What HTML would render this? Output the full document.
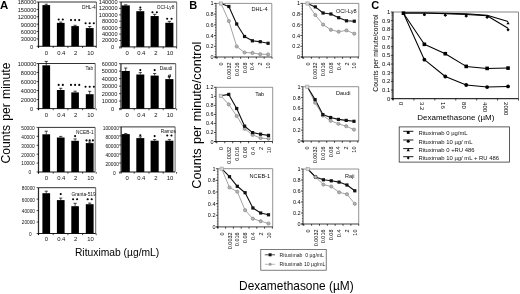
<!DOCTYPE html>
<html><head><meta charset="utf-8"><title>Figure</title>
<style>html,body{margin:0;padding:0;background:#fff;width:520px;height:294px;overflow:hidden}
svg{display:block;font-family:"Liberation Sans", sans-serif;filter:grayscale(1) blur(0.3px)}</style></head>
<body><svg width="520" height="294" viewBox="0 0 520 294" font-family='"Liberation Sans", sans-serif'><text x="0.1" y="8.6" font-size="11.4" text-anchor="start" font-weight="bold" fill="#000">A</text>
<text x="189.3" y="8.8" font-size="11" text-anchor="start" font-weight="bold" fill="#000">B</text>
<text x="371.2" y="8.6" font-size="11" text-anchor="start" font-weight="bold" fill="#000">C</text>
<line x1="38.6" y1="2" x2="96.4" y2="2" stroke="#333" stroke-width="1"/>
<line x1="96.4" y1="2" x2="96.4" y2="46.3" stroke="#555" stroke-width="0.9"/>
<line x1="38" y1="2" x2="38" y2="46.3" stroke="#666" stroke-width="0.8" stroke-dasharray="0.5 0.6"/>
<line x1="36.6" y1="2" x2="38.6" y2="2" stroke="#000" stroke-width="0.7"/>
<text x="36.4" y="4.4" font-size="5.6" text-anchor="end" font-weight="normal" fill="#111">180000</text>
<line x1="36.6" y1="9.38" x2="38.6" y2="9.38" stroke="#000" stroke-width="0.7"/>
<text x="36.4" y="11.78" font-size="5.6" text-anchor="end" font-weight="normal" fill="#111">150000</text>
<line x1="36.6" y1="16.77" x2="38.6" y2="16.77" stroke="#000" stroke-width="0.7"/>
<text x="36.4" y="19.17" font-size="5.6" text-anchor="end" font-weight="normal" fill="#111">120000</text>
<line x1="36.6" y1="24.15" x2="38.6" y2="24.15" stroke="#000" stroke-width="0.7"/>
<text x="36.4" y="26.55" font-size="5.6" text-anchor="end" font-weight="normal" fill="#111">90000</text>
<line x1="36.6" y1="31.53" x2="38.6" y2="31.53" stroke="#000" stroke-width="0.7"/>
<text x="36.4" y="33.93" font-size="5.6" text-anchor="end" font-weight="normal" fill="#111">60000</text>
<line x1="36.6" y1="38.92" x2="38.6" y2="38.92" stroke="#000" stroke-width="0.7"/>
<text x="36.4" y="41.32" font-size="5.6" text-anchor="end" font-weight="normal" fill="#111">30000</text>
<line x1="36.6" y1="46.3" x2="38.6" y2="46.3" stroke="#000" stroke-width="0.7"/>
<text x="33.1" y="48.7" font-size="5.6" text-anchor="end" font-weight="normal" fill="#111">0</text>
<line x1="38.6" y1="2" x2="38.6" y2="47.8" stroke="#000" stroke-width="0.9"/>
<line x1="38.6" y1="46.3" x2="96.4" y2="46.3" stroke="#000" stroke-width="0.9"/>
<line x1="38.4" y1="46.3" x2="38.4" y2="48" stroke="#000" stroke-width="0.7"/>
<line x1="53.2" y1="46.3" x2="53.2" y2="48" stroke="#000" stroke-width="0.7"/>
<line x1="67.9" y1="46.3" x2="67.9" y2="48" stroke="#000" stroke-width="0.7"/>
<line x1="82.6" y1="46.3" x2="82.6" y2="48" stroke="#000" stroke-width="0.7"/>
<line x1="96.2" y1="46.3" x2="96.2" y2="48" stroke="#000" stroke-width="0.7"/>
<rect x="42.4" y="5.1" width="7.7" height="41.2" fill="#000"/>
<line x1="46.25" y1="4.2" x2="46.25" y2="5.1" stroke="#000" stroke-width="0.7"/>
<line x1="44.65" y1="4.2" x2="47.85" y2="4.2" stroke="#000" stroke-width="0.7"/>
<text x="46.4" y="54.7" font-size="5.9" text-anchor="middle" font-weight="normal" fill="#111">0</text>
<rect x="56.9" y="22.9" width="7.7" height="23.4" fill="#000"/>
<line x1="60.75" y1="22.1" x2="60.75" y2="22.9" stroke="#000" stroke-width="0.7"/>
<line x1="59.15" y1="22.1" x2="62.35" y2="22.1" stroke="#000" stroke-width="0.7"/>
<circle cx="58.7" cy="19.5" r="1.05"/>
<circle cx="62.8" cy="19.5" r="1.05"/>
<text x="61.3" y="54.7" font-size="5.9" text-anchor="middle" font-weight="normal" fill="#111">0.4</text>
<rect x="71.3" y="26.1" width="7.6" height="20.2" fill="#000"/>
<line x1="75.1" y1="25.3" x2="75.1" y2="26.1" stroke="#000" stroke-width="0.7"/>
<line x1="73.5" y1="25.3" x2="76.7" y2="25.3" stroke="#000" stroke-width="0.7"/>
<circle cx="71" cy="20.1" r="1.05"/>
<circle cx="75.1" cy="20.1" r="1.05"/>
<circle cx="79.2" cy="20.1" r="1.05"/>
<text x="75.6" y="54.7" font-size="5.9" text-anchor="middle" font-weight="normal" fill="#111">2</text>
<rect x="85.8" y="28.1" width="7.8" height="18.2" fill="#000"/>
<line x1="89.7" y1="26.5" x2="89.7" y2="28.1" stroke="#000" stroke-width="0.7"/>
<line x1="88.1" y1="26.5" x2="91.3" y2="26.5" stroke="#000" stroke-width="0.7"/>
<circle cx="85.6" cy="23.3" r="1.05"/>
<circle cx="89.7" cy="23.3" r="1.05"/>
<circle cx="93.8" cy="23.3" r="1.05"/>
<text x="90.5" y="54.7" font-size="5.9" text-anchor="middle" font-weight="normal" fill="#111">10</text>
<text x="95.8" y="8.9" font-size="4.8" text-anchor="end" font-weight="normal" fill="#111">DHL-4</text>
<line x1="121.2" y1="2" x2="176.7" y2="2" stroke="#333" stroke-width="1"/>
<line x1="176.7" y1="2" x2="176.7" y2="46.9" stroke="#555" stroke-width="0.9"/>
<line x1="120.6" y1="2" x2="120.6" y2="46.9" stroke="#666" stroke-width="0.8" stroke-dasharray="0.5 0.6"/>
<line x1="119.2" y1="2" x2="121.2" y2="2" stroke="#000" stroke-width="0.7"/>
<text x="117.5" y="4" font-size="5.6" text-anchor="end" font-weight="normal" fill="#111">140000</text>
<line x1="119.2" y1="8.41" x2="121.2" y2="8.41" stroke="#000" stroke-width="0.7"/>
<text x="117.5" y="10.41" font-size="5.6" text-anchor="end" font-weight="normal" fill="#111">120000</text>
<line x1="119.2" y1="14.83" x2="121.2" y2="14.83" stroke="#000" stroke-width="0.7"/>
<text x="117.5" y="16.83" font-size="5.6" text-anchor="end" font-weight="normal" fill="#111">100000</text>
<line x1="119.2" y1="21.24" x2="121.2" y2="21.24" stroke="#000" stroke-width="0.7"/>
<text x="117.5" y="23.24" font-size="5.6" text-anchor="end" font-weight="normal" fill="#111">80000</text>
<line x1="119.2" y1="27.66" x2="121.2" y2="27.66" stroke="#000" stroke-width="0.7"/>
<text x="117.5" y="29.66" font-size="5.6" text-anchor="end" font-weight="normal" fill="#111">60000</text>
<line x1="119.2" y1="34.07" x2="121.2" y2="34.07" stroke="#000" stroke-width="0.7"/>
<text x="117.5" y="36.07" font-size="5.6" text-anchor="end" font-weight="normal" fill="#111">40000</text>
<line x1="119.2" y1="40.49" x2="121.2" y2="40.49" stroke="#000" stroke-width="0.7"/>
<text x="117.5" y="42.49" font-size="5.6" text-anchor="end" font-weight="normal" fill="#111">20000</text>
<line x1="119.2" y1="46.9" x2="121.2" y2="46.9" stroke="#000" stroke-width="0.7"/>
<text x="114.2" y="48.9" font-size="5.6" text-anchor="end" font-weight="normal" fill="#111">0</text>
<line x1="121.2" y1="2" x2="121.2" y2="48.4" stroke="#000" stroke-width="0.9"/>
<line x1="121.2" y1="46.9" x2="176.7" y2="46.9" stroke="#000" stroke-width="0.9"/>
<line x1="119.8" y1="46.9" x2="119.8" y2="48.6" stroke="#000" stroke-width="0.7"/>
<line x1="134.2" y1="46.9" x2="134.2" y2="48.6" stroke="#000" stroke-width="0.7"/>
<line x1="149" y1="46.9" x2="149" y2="48.6" stroke="#000" stroke-width="0.7"/>
<line x1="163.2" y1="46.9" x2="163.2" y2="48.6" stroke="#000" stroke-width="0.7"/>
<line x1="176.6" y1="46.9" x2="176.6" y2="48.6" stroke="#000" stroke-width="0.7"/>
<rect x="121.6" y="5.4" width="8.2" height="41.5" fill="#000"/>
<line x1="125.7" y1="4.8" x2="125.7" y2="5.4" stroke="#000" stroke-width="0.7"/>
<line x1="124.1" y1="4.8" x2="127.3" y2="4.8" stroke="#000" stroke-width="0.7"/>
<text x="127.2" y="54.7" font-size="5.9" text-anchor="middle" font-weight="normal" fill="#111">0</text>
<rect x="136.3" y="11.2" width="8" height="35.7" fill="#000"/>
<line x1="140.3" y1="9.6" x2="140.3" y2="11.2" stroke="#000" stroke-width="0.7"/>
<line x1="138.7" y1="9.6" x2="141.9" y2="9.6" stroke="#000" stroke-width="0.7"/>
<circle cx="140.3" cy="7.6" r="1.05"/>
<text x="141.3" y="54.7" font-size="5.9" text-anchor="middle" font-weight="normal" fill="#111">0.4</text>
<rect x="150.6" y="16.05" width="8.1" height="30.85" fill="#000"/>
<line x1="154.65" y1="14.3" x2="154.65" y2="16.05" stroke="#000" stroke-width="0.7"/>
<line x1="153.05" y1="14.3" x2="156.25" y2="14.3" stroke="#000" stroke-width="0.7"/>
<circle cx="152.45" cy="12.2" r="1.05"/>
<circle cx="156.85" cy="12.2" r="1.05"/>
<text x="155.8" y="54.7" font-size="5.9" text-anchor="middle" font-weight="normal" fill="#111">2</text>
<rect x="165.3" y="22.8" width="8.1" height="24.1" fill="#000"/>
<line x1="169.35" y1="21.4" x2="169.35" y2="22.8" stroke="#000" stroke-width="0.7"/>
<line x1="167.75" y1="21.4" x2="170.95" y2="21.4" stroke="#000" stroke-width="0.7"/>
<circle cx="167.15" cy="18.7" r="1.05"/>
<circle cx="171.55" cy="18.7" r="1.05"/>
<text x="170" y="54.7" font-size="5.9" text-anchor="middle" font-weight="normal" fill="#111">10</text>
<text x="174.4" y="9" font-size="4.8" text-anchor="end" font-weight="normal" fill="#111">OCI-Ly8</text>
<line x1="38.6" y1="63.5" x2="95.2" y2="63.5" stroke="#333" stroke-width="1"/>
<line x1="95.2" y1="63.5" x2="95.2" y2="108.6" stroke="#555" stroke-width="0.9"/>
<line x1="38" y1="63.5" x2="38" y2="108.6" stroke="#666" stroke-width="0.8" stroke-dasharray="0.5 0.6"/>
<line x1="36.6" y1="63.5" x2="38.6" y2="63.5" stroke="#000" stroke-width="0.7"/>
<text x="36.4" y="65.9" font-size="5.6" text-anchor="end" font-weight="normal" fill="#111">100000</text>
<line x1="36.6" y1="72.52" x2="38.6" y2="72.52" stroke="#000" stroke-width="0.7"/>
<text x="36.4" y="74.92" font-size="5.6" text-anchor="end" font-weight="normal" fill="#111">80000</text>
<line x1="36.6" y1="81.54" x2="38.6" y2="81.54" stroke="#000" stroke-width="0.7"/>
<text x="36.4" y="83.94" font-size="5.6" text-anchor="end" font-weight="normal" fill="#111">60000</text>
<line x1="36.6" y1="90.56" x2="38.6" y2="90.56" stroke="#000" stroke-width="0.7"/>
<text x="36.4" y="92.96" font-size="5.6" text-anchor="end" font-weight="normal" fill="#111">40000</text>
<line x1="36.6" y1="99.58" x2="38.6" y2="99.58" stroke="#000" stroke-width="0.7"/>
<text x="36.4" y="101.98" font-size="5.6" text-anchor="end" font-weight="normal" fill="#111">20000</text>
<line x1="36.6" y1="108.6" x2="38.6" y2="108.6" stroke="#000" stroke-width="0.7"/>
<text x="33.1" y="111" font-size="5.6" text-anchor="end" font-weight="normal" fill="#111">0</text>
<line x1="38.6" y1="63.5" x2="38.6" y2="110.1" stroke="#000" stroke-width="0.9"/>
<line x1="38.6" y1="108.6" x2="95.2" y2="108.6" stroke="#000" stroke-width="0.9"/>
<line x1="38.4" y1="108.6" x2="38.4" y2="110.3" stroke="#000" stroke-width="0.7"/>
<line x1="53.2" y1="108.6" x2="53.2" y2="110.3" stroke="#000" stroke-width="0.7"/>
<line x1="67.9" y1="108.6" x2="67.9" y2="110.3" stroke="#000" stroke-width="0.7"/>
<line x1="82.6" y1="108.6" x2="82.6" y2="110.3" stroke="#000" stroke-width="0.7"/>
<line x1="96.2" y1="108.6" x2="96.2" y2="110.3" stroke="#000" stroke-width="0.7"/>
<rect x="42.4" y="65.3" width="7.7" height="43.3" fill="#000"/>
<line x1="46.25" y1="61.4" x2="46.25" y2="65.3" stroke="#000" stroke-width="0.7"/>
<line x1="44.65" y1="61.4" x2="47.85" y2="61.4" stroke="#000" stroke-width="0.7"/>
<text x="46.4" y="116.9" font-size="5.9" text-anchor="middle" font-weight="normal" fill="#111">0</text>
<rect x="56.9" y="90" width="7.7" height="18.6" fill="#000"/>
<line x1="60.75" y1="88.3" x2="60.75" y2="90" stroke="#000" stroke-width="0.7"/>
<line x1="59.15" y1="88.3" x2="62.35" y2="88.3" stroke="#000" stroke-width="0.7"/>
<circle cx="58.67" cy="84.9" r="1.05"/>
<circle cx="62.83" cy="84.9" r="1.05"/>
<text x="61.3" y="116.9" font-size="5.9" text-anchor="middle" font-weight="normal" fill="#111">0.4</text>
<rect x="71.3" y="92.4" width="7.6" height="16.2" fill="#000"/>
<line x1="75.1" y1="91.2" x2="75.1" y2="92.4" stroke="#000" stroke-width="0.7"/>
<line x1="73.5" y1="91.2" x2="76.7" y2="91.2" stroke="#000" stroke-width="0.7"/>
<circle cx="70.95" cy="84.9" r="1.05"/>
<circle cx="75.1" cy="84.9" r="1.05"/>
<circle cx="79.25" cy="84.9" r="1.05"/>
<text x="75.6" y="116.9" font-size="5.9" text-anchor="middle" font-weight="normal" fill="#111">2</text>
<rect x="85.8" y="94.2" width="7.8" height="14.4" fill="#000"/>
<line x1="89.7" y1="91.3" x2="89.7" y2="94.2" stroke="#000" stroke-width="0.7"/>
<line x1="88.1" y1="91.3" x2="91.3" y2="91.3" stroke="#000" stroke-width="0.7"/>
<circle cx="85.55" cy="86.7" r="1.05"/>
<circle cx="89.7" cy="86.7" r="1.05"/>
<circle cx="93.85" cy="86.7" r="1.05"/>
<text x="90.5" y="116.9" font-size="5.9" text-anchor="middle" font-weight="normal" fill="#111">10</text>
<text x="93.2" y="69.9" font-size="4.8" text-anchor="end" font-weight="normal" fill="#111">Tab</text>
<line x1="121" y1="63.7" x2="175.7" y2="63.7" stroke="#333" stroke-width="1"/>
<line x1="175.7" y1="63.7" x2="175.7" y2="108.6" stroke="#555" stroke-width="0.9"/>
<line x1="120.4" y1="63.7" x2="120.4" y2="108.6" stroke="#666" stroke-width="0.8" stroke-dasharray="0.5 0.6"/>
<line x1="119" y1="63.7" x2="121" y2="63.7" stroke="#000" stroke-width="0.7"/>
<text x="117.3" y="65.7" font-size="5.6" text-anchor="end" font-weight="normal" fill="#111">60000</text>
<line x1="119" y1="71.18" x2="121" y2="71.18" stroke="#000" stroke-width="0.7"/>
<text x="117.3" y="73.18" font-size="5.6" text-anchor="end" font-weight="normal" fill="#111">50000</text>
<line x1="119" y1="78.67" x2="121" y2="78.67" stroke="#000" stroke-width="0.7"/>
<text x="117.3" y="80.67" font-size="5.6" text-anchor="end" font-weight="normal" fill="#111">40000</text>
<line x1="119" y1="86.15" x2="121" y2="86.15" stroke="#000" stroke-width="0.7"/>
<text x="117.3" y="88.15" font-size="5.6" text-anchor="end" font-weight="normal" fill="#111">30000</text>
<line x1="119" y1="93.63" x2="121" y2="93.63" stroke="#000" stroke-width="0.7"/>
<text x="117.3" y="95.63" font-size="5.6" text-anchor="end" font-weight="normal" fill="#111">20000</text>
<line x1="119" y1="101.12" x2="121" y2="101.12" stroke="#000" stroke-width="0.7"/>
<text x="117.3" y="103.12" font-size="5.6" text-anchor="end" font-weight="normal" fill="#111">10000</text>
<line x1="119" y1="108.6" x2="121" y2="108.6" stroke="#000" stroke-width="0.7"/>
<text x="114" y="110.6" font-size="5.6" text-anchor="end" font-weight="normal" fill="#111">0</text>
<line x1="121" y1="63.7" x2="121" y2="110.1" stroke="#000" stroke-width="0.9"/>
<line x1="121" y1="108.6" x2="175.7" y2="108.6" stroke="#000" stroke-width="0.9"/>
<line x1="119.8" y1="108.6" x2="119.8" y2="110.3" stroke="#000" stroke-width="0.7"/>
<line x1="134.2" y1="108.6" x2="134.2" y2="110.3" stroke="#000" stroke-width="0.7"/>
<line x1="149" y1="108.6" x2="149" y2="110.3" stroke="#000" stroke-width="0.7"/>
<line x1="163.2" y1="108.6" x2="163.2" y2="110.3" stroke="#000" stroke-width="0.7"/>
<line x1="176.6" y1="108.6" x2="176.6" y2="110.3" stroke="#000" stroke-width="0.7"/>
<rect x="121.6" y="71" width="8.2" height="37.6" fill="#000"/>
<line x1="125.7" y1="68" x2="125.7" y2="71" stroke="#000" stroke-width="0.7"/>
<line x1="124.1" y1="68" x2="127.3" y2="68" stroke="#000" stroke-width="0.7"/>
<text x="127.2" y="116.9" font-size="5.9" text-anchor="middle" font-weight="normal" fill="#111">0</text>
<rect x="136.3" y="74.5" width="8" height="34.1" fill="#000"/>
<line x1="140.3" y1="72.6" x2="140.3" y2="74.5" stroke="#000" stroke-width="0.7"/>
<line x1="138.7" y1="72.6" x2="141.9" y2="72.6" stroke="#000" stroke-width="0.7"/>
<circle cx="140.3" cy="70.1" r="1.05"/>
<text x="141.3" y="116.9" font-size="5.9" text-anchor="middle" font-weight="normal" fill="#111">0.4</text>
<rect x="150.6" y="75.6" width="8.1" height="33" fill="#000"/>
<line x1="154.65" y1="73.5" x2="154.65" y2="75.6" stroke="#000" stroke-width="0.7"/>
<line x1="153.05" y1="73.5" x2="156.25" y2="73.5" stroke="#000" stroke-width="0.7"/>
<circle cx="154.65" cy="70.1" r="1.05"/>
<text x="155.8" y="116.9" font-size="5.9" text-anchor="middle" font-weight="normal" fill="#111">2</text>
<rect x="165.3" y="79.1" width="8.1" height="29.5" fill="#000"/>
<line x1="169.35" y1="76.8" x2="169.35" y2="79.1" stroke="#000" stroke-width="0.7"/>
<line x1="167.75" y1="76.8" x2="170.95" y2="76.8" stroke="#000" stroke-width="0.7"/>
<text x="169.35" y="77.9" font-size="6" text-anchor="middle" font-weight="bold" fill="#000">#</text>
<text x="170" y="116.9" font-size="5.9" text-anchor="middle" font-weight="normal" fill="#111">10</text>
<text x="172.4" y="70" font-size="4.8" text-anchor="end" font-weight="normal" fill="#111">Daudi</text>
<line x1="38.6" y1="127.4" x2="95.1" y2="127.4" stroke="#333" stroke-width="1"/>
<line x1="95.1" y1="127.4" x2="95.1" y2="172" stroke="#555" stroke-width="0.9"/>
<line x1="38" y1="127.4" x2="38" y2="172" stroke="#666" stroke-width="0.8" stroke-dasharray="0.5 0.6"/>
<line x1="36.6" y1="127.4" x2="38.6" y2="127.4" stroke="#000" stroke-width="0.7"/>
<text font-size="5.6" text-anchor="end" fill="#111" transform="translate(34.6,129.8) scale(0.86,1)">50000</text>
<line x1="36.6" y1="136.32" x2="38.6" y2="136.32" stroke="#000" stroke-width="0.7"/>
<text font-size="5.6" text-anchor="end" fill="#111" transform="translate(34.6,138.72) scale(0.86,1)">40000</text>
<line x1="36.6" y1="145.24" x2="38.6" y2="145.24" stroke="#000" stroke-width="0.7"/>
<text font-size="5.6" text-anchor="end" fill="#111" transform="translate(34.6,147.64) scale(0.86,1)">30000</text>
<line x1="36.6" y1="154.16" x2="38.6" y2="154.16" stroke="#000" stroke-width="0.7"/>
<text font-size="5.6" text-anchor="end" fill="#111" transform="translate(34.6,156.56) scale(0.86,1)">20000</text>
<line x1="36.6" y1="163.08" x2="38.6" y2="163.08" stroke="#000" stroke-width="0.7"/>
<text font-size="5.6" text-anchor="end" fill="#111" transform="translate(34.6,165.48) scale(0.86,1)">10000</text>
<line x1="36.6" y1="172" x2="38.6" y2="172" stroke="#000" stroke-width="0.7"/>
<text font-size="5.6" text-anchor="end" fill="#111" transform="translate(31.3,174.4) scale(0.86,1)">0</text>
<line x1="38.6" y1="127.4" x2="38.6" y2="173.5" stroke="#000" stroke-width="0.9"/>
<line x1="38.6" y1="172" x2="95.1" y2="172" stroke="#000" stroke-width="0.9"/>
<line x1="38.4" y1="172" x2="38.4" y2="173.7" stroke="#000" stroke-width="0.7"/>
<line x1="53.2" y1="172" x2="53.2" y2="173.7" stroke="#000" stroke-width="0.7"/>
<line x1="67.9" y1="172" x2="67.9" y2="173.7" stroke="#000" stroke-width="0.7"/>
<line x1="82.6" y1="172" x2="82.6" y2="173.7" stroke="#000" stroke-width="0.7"/>
<line x1="96.2" y1="172" x2="96.2" y2="173.7" stroke="#000" stroke-width="0.7"/>
<rect x="42.4" y="134.3" width="7.7" height="37.7" fill="#000"/>
<line x1="46.25" y1="131.2" x2="46.25" y2="134.3" stroke="#000" stroke-width="0.7"/>
<line x1="44.65" y1="131.2" x2="47.85" y2="131.2" stroke="#000" stroke-width="0.7"/>
<text x="46.4" y="180.3" font-size="5.9" text-anchor="middle" font-weight="normal" fill="#111">0</text>
<rect x="56.9" y="137.5" width="7.7" height="34.5" fill="#000"/>
<line x1="60.75" y1="136.4" x2="60.75" y2="137.5" stroke="#000" stroke-width="0.7"/>
<line x1="59.15" y1="136.4" x2="62.35" y2="136.4" stroke="#000" stroke-width="0.7"/>
<text x="61.3" y="180.3" font-size="5.9" text-anchor="middle" font-weight="normal" fill="#111">0.4</text>
<rect x="71.3" y="140.8" width="7.6" height="31.2" fill="#000"/>
<line x1="75.1" y1="138.9" x2="75.1" y2="140.8" stroke="#000" stroke-width="0.7"/>
<line x1="73.5" y1="138.9" x2="76.7" y2="138.9" stroke="#000" stroke-width="0.7"/>
<circle cx="75.1" cy="136.1" r="1.05"/>
<text x="75.6" y="180.3" font-size="5.9" text-anchor="middle" font-weight="normal" fill="#111">2</text>
<rect x="85.8" y="143.1" width="7.8" height="28.9" fill="#000"/>
<line x1="89.7" y1="142" x2="89.7" y2="143.1" stroke="#000" stroke-width="0.7"/>
<line x1="88.1" y1="142" x2="91.3" y2="142" stroke="#000" stroke-width="0.7"/>
<circle cx="86.5" cy="140.4" r="1.05"/>
<circle cx="89.7" cy="140.4" r="1.05"/>
<circle cx="92.9" cy="140.4" r="1.05"/>
<text x="90.5" y="180.3" font-size="5.9" text-anchor="middle" font-weight="normal" fill="#111">10</text>
<text x="93.6" y="133.5" font-size="4.8" text-anchor="end" font-weight="normal" fill="#111">NCEB-1</text>
<line x1="121.2" y1="126.9" x2="175.1" y2="126.9" stroke="#333" stroke-width="1"/>
<line x1="175.1" y1="126.9" x2="175.1" y2="172" stroke="#555" stroke-width="0.9"/>
<line x1="120.6" y1="126.9" x2="120.6" y2="172" stroke="#666" stroke-width="0.8" stroke-dasharray="0.5 0.6"/>
<line x1="119.2" y1="126.9" x2="121.2" y2="126.9" stroke="#000" stroke-width="0.7"/>
<text font-size="5.6" text-anchor="end" fill="#111" transform="translate(118.9,129.6) scale(0.87,1)">100000</text>
<line x1="119.2" y1="135.92" x2="121.2" y2="135.92" stroke="#000" stroke-width="0.7"/>
<text font-size="5.6" text-anchor="end" fill="#111" transform="translate(118.9,138.62) scale(0.87,1)">80000</text>
<line x1="119.2" y1="144.94" x2="121.2" y2="144.94" stroke="#000" stroke-width="0.7"/>
<text font-size="5.6" text-anchor="end" fill="#111" transform="translate(118.9,147.64) scale(0.87,1)">60000</text>
<line x1="119.2" y1="153.96" x2="121.2" y2="153.96" stroke="#000" stroke-width="0.7"/>
<text font-size="5.6" text-anchor="end" fill="#111" transform="translate(118.9,156.66) scale(0.87,1)">40000</text>
<line x1="119.2" y1="162.98" x2="121.2" y2="162.98" stroke="#000" stroke-width="0.7"/>
<text font-size="5.6" text-anchor="end" fill="#111" transform="translate(118.9,165.68) scale(0.87,1)">20000</text>
<line x1="119.2" y1="172" x2="121.2" y2="172" stroke="#000" stroke-width="0.7"/>
<text font-size="5.6" text-anchor="end" fill="#111" transform="translate(115.6,174.7) scale(0.87,1)">0</text>
<line x1="121.2" y1="126.9" x2="121.2" y2="173.5" stroke="#000" stroke-width="0.9"/>
<line x1="121.2" y1="172" x2="175.1" y2="172" stroke="#000" stroke-width="0.9"/>
<line x1="119.8" y1="172" x2="119.8" y2="173.7" stroke="#000" stroke-width="0.7"/>
<line x1="134.2" y1="172" x2="134.2" y2="173.7" stroke="#000" stroke-width="0.7"/>
<line x1="149" y1="172" x2="149" y2="173.7" stroke="#000" stroke-width="0.7"/>
<line x1="163.2" y1="172" x2="163.2" y2="173.7" stroke="#000" stroke-width="0.7"/>
<line x1="176.6" y1="172" x2="176.6" y2="173.7" stroke="#000" stroke-width="0.7"/>
<rect x="121.6" y="134.1" width="8.2" height="37.9" fill="#000"/>
<line x1="125.7" y1="133.6" x2="125.7" y2="134.1" stroke="#000" stroke-width="0.7"/>
<line x1="124.1" y1="133.6" x2="127.3" y2="133.6" stroke="#000" stroke-width="0.7"/>
<text x="127.2" y="180.3" font-size="5.9" text-anchor="middle" font-weight="normal" fill="#111">0</text>
<rect x="136.3" y="138.1" width="8" height="33.9" fill="#000"/>
<line x1="140.3" y1="136.8" x2="140.3" y2="138.1" stroke="#000" stroke-width="0.7"/>
<line x1="138.7" y1="136.8" x2="141.9" y2="136.8" stroke="#000" stroke-width="0.7"/>
<circle cx="140.3" cy="135.2" r="1.05"/>
<text x="141.3" y="180.3" font-size="5.9" text-anchor="middle" font-weight="normal" fill="#111">0.4</text>
<rect x="150.6" y="140.7" width="8.1" height="31.3" fill="#000"/>
<line x1="154.65" y1="139.6" x2="154.65" y2="140.7" stroke="#000" stroke-width="0.7"/>
<line x1="153.05" y1="139.6" x2="156.25" y2="139.6" stroke="#000" stroke-width="0.7"/>
<circle cx="154.65" cy="136.1" r="1.05"/>
<text x="155.8" y="180.3" font-size="5.9" text-anchor="middle" font-weight="normal" fill="#111">2</text>
<rect x="165.3" y="140.7" width="8.1" height="31.3" fill="#000"/>
<line x1="169.35" y1="139.6" x2="169.35" y2="140.7" stroke="#000" stroke-width="0.7"/>
<line x1="167.75" y1="139.6" x2="170.95" y2="139.6" stroke="#000" stroke-width="0.7"/>
<circle cx="167.25" cy="135.5" r="1.05"/>
<circle cx="171.45" cy="135.5" r="1.05"/>
<text x="170" y="180.3" font-size="5.9" text-anchor="middle" font-weight="normal" fill="#111">10</text>
<text x="175.9" y="133.2" font-size="4.8" text-anchor="end" font-weight="normal" fill="#111">Ramos</text>
<line x1="38.6" y1="187.7" x2="95.7" y2="187.7" stroke="#333" stroke-width="1"/>
<line x1="95.7" y1="187.7" x2="95.7" y2="233.5" stroke="#555" stroke-width="0.9"/>
<line x1="38" y1="187.7" x2="38" y2="233.5" stroke="#666" stroke-width="0.8" stroke-dasharray="0.5 0.6"/>
<line x1="36.6" y1="187.7" x2="38.6" y2="187.7" stroke="#000" stroke-width="0.7"/>
<text font-size="5.6" text-anchor="end" fill="#111" transform="translate(34.9,190.1) scale(0.84,1)">80000</text>
<line x1="36.6" y1="199.15" x2="38.6" y2="199.15" stroke="#000" stroke-width="0.7"/>
<text font-size="5.6" text-anchor="end" fill="#111" transform="translate(34.9,201.55) scale(0.84,1)">60000</text>
<line x1="36.6" y1="210.6" x2="38.6" y2="210.6" stroke="#000" stroke-width="0.7"/>
<text font-size="5.6" text-anchor="end" fill="#111" transform="translate(34.9,213) scale(0.84,1)">40000</text>
<line x1="36.6" y1="222.05" x2="38.6" y2="222.05" stroke="#000" stroke-width="0.7"/>
<text font-size="5.6" text-anchor="end" fill="#111" transform="translate(34.9,224.45) scale(0.84,1)">20000</text>
<line x1="36.6" y1="233.5" x2="38.6" y2="233.5" stroke="#000" stroke-width="0.7"/>
<text font-size="5.6" text-anchor="end" fill="#111" transform="translate(31.6,235.9) scale(0.84,1)">0</text>
<line x1="38.6" y1="187.7" x2="38.6" y2="235" stroke="#000" stroke-width="0.9"/>
<line x1="38.6" y1="233.5" x2="95.7" y2="233.5" stroke="#000" stroke-width="0.9"/>
<line x1="38.4" y1="233.5" x2="38.4" y2="235.2" stroke="#000" stroke-width="0.7"/>
<line x1="53.2" y1="233.5" x2="53.2" y2="235.2" stroke="#000" stroke-width="0.7"/>
<line x1="67.9" y1="233.5" x2="67.9" y2="235.2" stroke="#000" stroke-width="0.7"/>
<line x1="82.6" y1="233.5" x2="82.6" y2="235.2" stroke="#000" stroke-width="0.7"/>
<line x1="96.2" y1="233.5" x2="96.2" y2="235.2" stroke="#000" stroke-width="0.7"/>
<rect x="42.4" y="193.2" width="7.7" height="40.3" fill="#000"/>
<line x1="46.25" y1="191.2" x2="46.25" y2="193.2" stroke="#000" stroke-width="0.7"/>
<line x1="44.65" y1="191.2" x2="47.85" y2="191.2" stroke="#000" stroke-width="0.7"/>
<text x="46.4" y="241.3" font-size="5.9" text-anchor="middle" font-weight="normal" fill="#111">0</text>
<rect x="56.9" y="200.1" width="7.7" height="33.4" fill="#000"/>
<line x1="60.75" y1="198.1" x2="60.75" y2="200.1" stroke="#000" stroke-width="0.7"/>
<line x1="59.15" y1="198.1" x2="62.35" y2="198.1" stroke="#000" stroke-width="0.7"/>
<circle cx="60.75" cy="194.1" r="1.05"/>
<text x="61.3" y="241.3" font-size="5.9" text-anchor="middle" font-weight="normal" fill="#111">0.4</text>
<rect x="71.3" y="206.2" width="7.6" height="27.3" fill="#000"/>
<line x1="75.1" y1="203.3" x2="75.1" y2="206.2" stroke="#000" stroke-width="0.7"/>
<line x1="73.5" y1="203.3" x2="76.7" y2="203.3" stroke="#000" stroke-width="0.7"/>
<circle cx="73.1" cy="199.3" r="1.05"/>
<circle cx="77.1" cy="199.3" r="1.05"/>
<text x="75.6" y="241.3" font-size="5.9" text-anchor="middle" font-weight="normal" fill="#111">2</text>
<rect x="85.8" y="204.2" width="7.8" height="29.3" fill="#000"/>
<line x1="89.7" y1="203.1" x2="89.7" y2="204.2" stroke="#000" stroke-width="0.7"/>
<line x1="88.1" y1="203.1" x2="91.3" y2="203.1" stroke="#000" stroke-width="0.7"/>
<circle cx="87.7" cy="199.3" r="1.05"/>
<circle cx="91.7" cy="199.3" r="1.05"/>
<text x="90.5" y="241.3" font-size="5.9" text-anchor="middle" font-weight="normal" fill="#111">10</text>
<text x="95.7" y="195.5" font-size="4.8" text-anchor="end" font-weight="normal" fill="#111">Granta-519</text>
<text x="0" y="0" font-size="12.15" text-anchor="middle" font-weight="normal" fill="#000" transform="translate(10.3,113) rotate(-90)" word-spacing="0.9">Counts per minute</text>
<text x="117.1" y="256.2" font-size="10.3" text-anchor="middle" font-weight="normal" fill="#000">Rituximab (µg/mL)</text>
<line x1="216" y1="3.4" x2="271.8" y2="3.4" stroke="#666" stroke-width="0.7"/>
<line x1="271.8" y1="3.4" x2="271.8" y2="57" stroke="#666" stroke-width="0.7"/>
<line x1="214" y1="3.4" x2="216" y2="3.4" stroke="#000" stroke-width="0.7"/>
<text x="213.6" y="5.4" font-size="5.5" text-anchor="end" font-weight="normal" fill="#000" class="b">1</text>
<line x1="214.9" y1="6.08" x2="216" y2="6.08" stroke="#333" stroke-width="0.5"/>
<line x1="214.9" y1="8.76" x2="216" y2="8.76" stroke="#333" stroke-width="0.5"/>
<line x1="214.9" y1="11.44" x2="216" y2="11.44" stroke="#333" stroke-width="0.5"/>
<line x1="214" y1="14.12" x2="216" y2="14.12" stroke="#000" stroke-width="0.7"/>
<text x="213.6" y="16.12" font-size="5.5" text-anchor="end" font-weight="normal" fill="#000" class="b">0.8</text>
<line x1="214.9" y1="16.8" x2="216" y2="16.8" stroke="#333" stroke-width="0.5"/>
<line x1="214.9" y1="19.48" x2="216" y2="19.48" stroke="#333" stroke-width="0.5"/>
<line x1="214.9" y1="22.16" x2="216" y2="22.16" stroke="#333" stroke-width="0.5"/>
<line x1="214" y1="24.84" x2="216" y2="24.84" stroke="#000" stroke-width="0.7"/>
<text x="213.6" y="26.84" font-size="5.5" text-anchor="end" font-weight="normal" fill="#000" class="b">0.6</text>
<line x1="214.9" y1="27.52" x2="216" y2="27.52" stroke="#333" stroke-width="0.5"/>
<line x1="214.9" y1="30.2" x2="216" y2="30.2" stroke="#333" stroke-width="0.5"/>
<line x1="214.9" y1="32.88" x2="216" y2="32.88" stroke="#333" stroke-width="0.5"/>
<line x1="214" y1="35.56" x2="216" y2="35.56" stroke="#000" stroke-width="0.7"/>
<text x="213.6" y="37.56" font-size="5.5" text-anchor="end" font-weight="normal" fill="#000" class="b">0.4</text>
<line x1="214.9" y1="38.24" x2="216" y2="38.24" stroke="#333" stroke-width="0.5"/>
<line x1="214.9" y1="40.92" x2="216" y2="40.92" stroke="#333" stroke-width="0.5"/>
<line x1="214.9" y1="43.6" x2="216" y2="43.6" stroke="#333" stroke-width="0.5"/>
<line x1="214" y1="46.28" x2="216" y2="46.28" stroke="#000" stroke-width="0.7"/>
<text x="213.6" y="48.28" font-size="5.5" text-anchor="end" font-weight="normal" fill="#000" class="b">0.2</text>
<line x1="214.9" y1="48.96" x2="216" y2="48.96" stroke="#333" stroke-width="0.5"/>
<line x1="214.9" y1="51.64" x2="216" y2="51.64" stroke="#333" stroke-width="0.5"/>
<line x1="214.9" y1="54.32" x2="216" y2="54.32" stroke="#333" stroke-width="0.5"/>
<line x1="214" y1="57" x2="216" y2="57" stroke="#000" stroke-width="0.7"/>
<text x="213.6" y="59" font-size="5.5" text-anchor="end" font-weight="normal" fill="#000" class="b">0</text>
<line x1="216" y1="3.4" x2="216" y2="58.5" stroke="#000" stroke-width="0.75"/>
<line x1="214.5" y1="57" x2="271.8" y2="57" stroke="#000" stroke-width="0.75"/>
<line x1="217.07" y1="57" x2="217.07" y2="58.8" stroke="#000" stroke-width="0.7"/>
<line x1="224.92" y1="57" x2="224.92" y2="58.8" stroke="#000" stroke-width="0.7"/>
<line x1="232.77" y1="57" x2="232.77" y2="58.8" stroke="#000" stroke-width="0.7"/>
<line x1="240.62" y1="57" x2="240.62" y2="58.8" stroke="#000" stroke-width="0.7"/>
<line x1="248.47" y1="57" x2="248.47" y2="58.8" stroke="#000" stroke-width="0.7"/>
<line x1="256.32" y1="57" x2="256.32" y2="58.8" stroke="#000" stroke-width="0.7"/>
<line x1="264.17" y1="57" x2="264.17" y2="58.8" stroke="#000" stroke-width="0.7"/>
<line x1="272.02" y1="57" x2="272.02" y2="58.8" stroke="#000" stroke-width="0.7"/>
<text x="0" y="0" font-size="5.5" text-anchor="end" font-weight="normal" fill="#000" transform="translate(223,62.5) rotate(-90)" class="b">0</text>
<text x="0" y="0" font-size="5.5" text-anchor="end" font-weight="normal" fill="#000" transform="translate(230.85,62.5) rotate(-90)" class="b">0.0032</text>
<text x="0" y="0" font-size="5.5" text-anchor="end" font-weight="normal" fill="#000" transform="translate(238.7,62.5) rotate(-90)" class="b">0.016</text>
<text x="0" y="0" font-size="5.5" text-anchor="end" font-weight="normal" fill="#000" transform="translate(246.55,62.5) rotate(-90)" class="b">0.08</text>
<text x="0" y="0" font-size="5.5" text-anchor="end" font-weight="normal" fill="#000" transform="translate(254.4,62.5) rotate(-90)" class="b">0.4</text>
<text x="0" y="0" font-size="5.5" text-anchor="end" font-weight="normal" fill="#000" transform="translate(262.25,62.5) rotate(-90)" class="b">2</text>
<text x="0" y="0" font-size="5.5" text-anchor="end" font-weight="normal" fill="#000" transform="translate(270.1,62.5) rotate(-90)" class="b">10</text>
<polyline points="221,3.5 228.85,21 236.7,46.5 244.55,52.5 252.4,52.9 260.25,54.2 268.1,54.4" fill="none" stroke="#9a9a9a" stroke-width="0.9" stroke-linejoin="round"/>
<polyline points="221,3.5 228.85,6.5 236.7,24 244.55,36.5 252.4,40.8 260.25,41.7 268.1,43.3" fill="none" stroke="#111" stroke-width="1.1" stroke-linejoin="round"/>
<circle cx="228.85" cy="21" r="1.6" fill="#b4b4b4" stroke="#7a7a7a" stroke-width="0.6"/>
<circle cx="236.7" cy="46.5" r="1.6" fill="#b4b4b4" stroke="#7a7a7a" stroke-width="0.6"/>
<circle cx="244.55" cy="52.5" r="1.6" fill="#b4b4b4" stroke="#7a7a7a" stroke-width="0.6"/>
<circle cx="252.4" cy="52.9" r="1.6" fill="#b4b4b4" stroke="#7a7a7a" stroke-width="0.6"/>
<circle cx="260.25" cy="54.2" r="1.6" fill="#b4b4b4" stroke="#7a7a7a" stroke-width="0.6"/>
<circle cx="268.1" cy="54.4" r="1.6" fill="#b4b4b4" stroke="#7a7a7a" stroke-width="0.6"/>
<rect x="227.25" y="4.9" width="3.2" height="3.2" fill="#111"/>
<rect x="235.1" y="22.4" width="3.2" height="3.2" fill="#111"/>
<rect x="242.95" y="34.9" width="3.2" height="3.2" fill="#111"/>
<rect x="250.8" y="39.2" width="3.2" height="3.2" fill="#111"/>
<rect x="258.65" y="40.1" width="3.2" height="3.2" fill="#111"/>
<rect x="266.5" y="41.7" width="3.2" height="3.2" fill="#111"/>
<rect x="219.4" y="1.9" width="3.2" height="3.2" fill="#d8d8d8" stroke="#999" stroke-width="0.6"/>
<text x="267.6" y="11.4" font-size="5.6" text-anchor="end" font-weight="normal" fill="#111">DHL-4</text>
<line x1="302.4" y1="3.4" x2="358.8" y2="3.4" stroke="#666" stroke-width="0.7"/>
<line x1="358.8" y1="3.4" x2="358.8" y2="57" stroke="#666" stroke-width="0.7"/>
<line x1="300.4" y1="3.4" x2="302.4" y2="3.4" stroke="#000" stroke-width="0.7"/>
<text x="300" y="5.4" font-size="5.5" text-anchor="end" font-weight="normal" fill="#000" class="b">1</text>
<line x1="301.3" y1="6.08" x2="302.4" y2="6.08" stroke="#333" stroke-width="0.5"/>
<line x1="301.3" y1="8.76" x2="302.4" y2="8.76" stroke="#333" stroke-width="0.5"/>
<line x1="301.3" y1="11.44" x2="302.4" y2="11.44" stroke="#333" stroke-width="0.5"/>
<line x1="300.4" y1="14.12" x2="302.4" y2="14.12" stroke="#000" stroke-width="0.7"/>
<text x="300" y="16.12" font-size="5.5" text-anchor="end" font-weight="normal" fill="#000" class="b">0.8</text>
<line x1="301.3" y1="16.8" x2="302.4" y2="16.8" stroke="#333" stroke-width="0.5"/>
<line x1="301.3" y1="19.48" x2="302.4" y2="19.48" stroke="#333" stroke-width="0.5"/>
<line x1="301.3" y1="22.16" x2="302.4" y2="22.16" stroke="#333" stroke-width="0.5"/>
<line x1="300.4" y1="24.84" x2="302.4" y2="24.84" stroke="#000" stroke-width="0.7"/>
<text x="300" y="26.84" font-size="5.5" text-anchor="end" font-weight="normal" fill="#000" class="b">0.6</text>
<line x1="301.3" y1="27.52" x2="302.4" y2="27.52" stroke="#333" stroke-width="0.5"/>
<line x1="301.3" y1="30.2" x2="302.4" y2="30.2" stroke="#333" stroke-width="0.5"/>
<line x1="301.3" y1="32.88" x2="302.4" y2="32.88" stroke="#333" stroke-width="0.5"/>
<line x1="300.4" y1="35.56" x2="302.4" y2="35.56" stroke="#000" stroke-width="0.7"/>
<text x="300" y="37.56" font-size="5.5" text-anchor="end" font-weight="normal" fill="#000" class="b">0.4</text>
<line x1="301.3" y1="38.24" x2="302.4" y2="38.24" stroke="#333" stroke-width="0.5"/>
<line x1="301.3" y1="40.92" x2="302.4" y2="40.92" stroke="#333" stroke-width="0.5"/>
<line x1="301.3" y1="43.6" x2="302.4" y2="43.6" stroke="#333" stroke-width="0.5"/>
<line x1="300.4" y1="46.28" x2="302.4" y2="46.28" stroke="#000" stroke-width="0.7"/>
<text x="300" y="48.28" font-size="5.5" text-anchor="end" font-weight="normal" fill="#000" class="b">0.2</text>
<line x1="301.3" y1="48.96" x2="302.4" y2="48.96" stroke="#333" stroke-width="0.5"/>
<line x1="301.3" y1="51.64" x2="302.4" y2="51.64" stroke="#333" stroke-width="0.5"/>
<line x1="301.3" y1="54.32" x2="302.4" y2="54.32" stroke="#333" stroke-width="0.5"/>
<line x1="300.4" y1="57" x2="302.4" y2="57" stroke="#000" stroke-width="0.7"/>
<text x="300" y="59" font-size="5.5" text-anchor="end" font-weight="normal" fill="#000" class="b">0</text>
<line x1="302.4" y1="3.4" x2="302.4" y2="58.5" stroke="#000" stroke-width="0.75"/>
<line x1="300.9" y1="57" x2="358.8" y2="57" stroke="#000" stroke-width="0.75"/>
<line x1="303.6" y1="57" x2="303.6" y2="58.8" stroke="#000" stroke-width="0.7"/>
<line x1="311.4" y1="57" x2="311.4" y2="58.8" stroke="#000" stroke-width="0.7"/>
<line x1="319.2" y1="57" x2="319.2" y2="58.8" stroke="#000" stroke-width="0.7"/>
<line x1="327" y1="57" x2="327" y2="58.8" stroke="#000" stroke-width="0.7"/>
<line x1="334.8" y1="57" x2="334.8" y2="58.8" stroke="#000" stroke-width="0.7"/>
<line x1="342.6" y1="57" x2="342.6" y2="58.8" stroke="#000" stroke-width="0.7"/>
<line x1="350.4" y1="57" x2="350.4" y2="58.8" stroke="#000" stroke-width="0.7"/>
<line x1="358.2" y1="57" x2="358.2" y2="58.8" stroke="#000" stroke-width="0.7"/>
<text x="0" y="0" font-size="5.5" text-anchor="end" font-weight="normal" fill="#000" transform="translate(309.5,62.5) rotate(-90)" class="b">0</text>
<text x="0" y="0" font-size="5.5" text-anchor="end" font-weight="normal" fill="#000" transform="translate(317.3,62.5) rotate(-90)" class="b">0.0032</text>
<text x="0" y="0" font-size="5.5" text-anchor="end" font-weight="normal" fill="#000" transform="translate(325.1,62.5) rotate(-90)" class="b">0.016</text>
<text x="0" y="0" font-size="5.5" text-anchor="end" font-weight="normal" fill="#000" transform="translate(332.9,62.5) rotate(-90)" class="b">0.08</text>
<text x="0" y="0" font-size="5.5" text-anchor="end" font-weight="normal" fill="#000" transform="translate(340.7,62.5) rotate(-90)" class="b">0.4</text>
<text x="0" y="0" font-size="5.5" text-anchor="end" font-weight="normal" fill="#000" transform="translate(348.5,62.5) rotate(-90)" class="b">2</text>
<text x="0" y="0" font-size="5.5" text-anchor="end" font-weight="normal" fill="#000" transform="translate(356.3,62.5) rotate(-90)" class="b">10</text>
<polyline points="307.5,3.5 315.3,15 323.1,24.6 330.9,29.8 338.7,31.7 346.5,30.4 354.3,33.7" fill="none" stroke="#9a9a9a" stroke-width="0.9" stroke-linejoin="round"/>
<polyline points="307.5,3.5 315.3,6.9 323.1,13 330.9,14 338.7,17.7 346.5,20.8 354.3,21.2" fill="none" stroke="#111" stroke-width="1.1" stroke-linejoin="round"/>
<circle cx="315.3" cy="15" r="1.6" fill="#b4b4b4" stroke="#7a7a7a" stroke-width="0.6"/>
<circle cx="323.1" cy="24.6" r="1.6" fill="#b4b4b4" stroke="#7a7a7a" stroke-width="0.6"/>
<circle cx="330.9" cy="29.8" r="1.6" fill="#b4b4b4" stroke="#7a7a7a" stroke-width="0.6"/>
<circle cx="338.7" cy="31.7" r="1.6" fill="#b4b4b4" stroke="#7a7a7a" stroke-width="0.6"/>
<circle cx="346.5" cy="30.4" r="1.6" fill="#b4b4b4" stroke="#7a7a7a" stroke-width="0.6"/>
<circle cx="354.3" cy="33.7" r="1.6" fill="#b4b4b4" stroke="#7a7a7a" stroke-width="0.6"/>
<rect x="313.7" y="5.3" width="3.2" height="3.2" fill="#111"/>
<rect x="321.5" y="11.4" width="3.2" height="3.2" fill="#111"/>
<rect x="329.3" y="12.4" width="3.2" height="3.2" fill="#111"/>
<rect x="337.1" y="16.1" width="3.2" height="3.2" fill="#111"/>
<rect x="344.9" y="19.2" width="3.2" height="3.2" fill="#111"/>
<rect x="352.7" y="19.6" width="3.2" height="3.2" fill="#111"/>
<rect x="305.9" y="1.9" width="3.2" height="3.2" fill="#d8d8d8" stroke="#999" stroke-width="0.6"/>
<text x="356.6" y="13.3" font-size="5.6" text-anchor="end" font-weight="normal" fill="#111">OCI-Ly8</text>
<line x1="216" y1="87.3" x2="272.7" y2="87.3" stroke="#666" stroke-width="0.7"/>
<line x1="272.7" y1="87.3" x2="272.7" y2="141.5" stroke="#666" stroke-width="0.7"/>
<line x1="214" y1="87.3" x2="216" y2="87.3" stroke="#000" stroke-width="0.7"/>
<text x="213.6" y="89.3" font-size="5.5" text-anchor="end" font-weight="normal" fill="#000" class="b">1.2</text>
<line x1="214.9" y1="89.56" x2="216" y2="89.56" stroke="#333" stroke-width="0.5"/>
<line x1="214.9" y1="91.82" x2="216" y2="91.82" stroke="#333" stroke-width="0.5"/>
<line x1="214.9" y1="94.08" x2="216" y2="94.08" stroke="#333" stroke-width="0.5"/>
<line x1="214" y1="96.33" x2="216" y2="96.33" stroke="#000" stroke-width="0.7"/>
<text x="213.6" y="98.33" font-size="5.5" text-anchor="end" font-weight="normal" fill="#000" class="b">1</text>
<line x1="214.9" y1="98.59" x2="216" y2="98.59" stroke="#333" stroke-width="0.5"/>
<line x1="214.9" y1="100.85" x2="216" y2="100.85" stroke="#333" stroke-width="0.5"/>
<line x1="214.9" y1="103.11" x2="216" y2="103.11" stroke="#333" stroke-width="0.5"/>
<line x1="214" y1="105.37" x2="216" y2="105.37" stroke="#000" stroke-width="0.7"/>
<text x="213.6" y="107.37" font-size="5.5" text-anchor="end" font-weight="normal" fill="#000" class="b">0.8</text>
<line x1="214.9" y1="107.62" x2="216" y2="107.62" stroke="#333" stroke-width="0.5"/>
<line x1="214.9" y1="109.88" x2="216" y2="109.88" stroke="#333" stroke-width="0.5"/>
<line x1="214.9" y1="112.14" x2="216" y2="112.14" stroke="#333" stroke-width="0.5"/>
<line x1="214" y1="114.4" x2="216" y2="114.4" stroke="#000" stroke-width="0.7"/>
<text x="213.6" y="116.4" font-size="5.5" text-anchor="end" font-weight="normal" fill="#000" class="b">0.6</text>
<line x1="214.9" y1="116.66" x2="216" y2="116.66" stroke="#333" stroke-width="0.5"/>
<line x1="214.9" y1="118.92" x2="216" y2="118.92" stroke="#333" stroke-width="0.5"/>
<line x1="214.9" y1="121.18" x2="216" y2="121.18" stroke="#333" stroke-width="0.5"/>
<line x1="214" y1="123.43" x2="216" y2="123.43" stroke="#000" stroke-width="0.7"/>
<text x="213.6" y="125.43" font-size="5.5" text-anchor="end" font-weight="normal" fill="#000" class="b">0.4</text>
<line x1="214.9" y1="125.69" x2="216" y2="125.69" stroke="#333" stroke-width="0.5"/>
<line x1="214.9" y1="127.95" x2="216" y2="127.95" stroke="#333" stroke-width="0.5"/>
<line x1="214.9" y1="130.21" x2="216" y2="130.21" stroke="#333" stroke-width="0.5"/>
<line x1="214" y1="132.47" x2="216" y2="132.47" stroke="#000" stroke-width="0.7"/>
<text x="213.6" y="134.47" font-size="5.5" text-anchor="end" font-weight="normal" fill="#000" class="b">0.2</text>
<line x1="214.9" y1="134.72" x2="216" y2="134.72" stroke="#333" stroke-width="0.5"/>
<line x1="214.9" y1="136.98" x2="216" y2="136.98" stroke="#333" stroke-width="0.5"/>
<line x1="214.9" y1="139.24" x2="216" y2="139.24" stroke="#333" stroke-width="0.5"/>
<line x1="214" y1="141.5" x2="216" y2="141.5" stroke="#000" stroke-width="0.7"/>
<text x="213.6" y="143.5" font-size="5.5" text-anchor="end" font-weight="normal" fill="#000" class="b">0</text>
<line x1="216" y1="87.3" x2="216" y2="143" stroke="#000" stroke-width="0.75"/>
<line x1="214.5" y1="141.5" x2="272.7" y2="141.5" stroke="#000" stroke-width="0.75"/>
<line x1="216.83" y1="141.5" x2="216.83" y2="143.3" stroke="#000" stroke-width="0.7"/>
<line x1="224.78" y1="141.5" x2="224.78" y2="143.3" stroke="#000" stroke-width="0.7"/>
<line x1="232.73" y1="141.5" x2="232.73" y2="143.3" stroke="#000" stroke-width="0.7"/>
<line x1="240.68" y1="141.5" x2="240.68" y2="143.3" stroke="#000" stroke-width="0.7"/>
<line x1="248.63" y1="141.5" x2="248.63" y2="143.3" stroke="#000" stroke-width="0.7"/>
<line x1="256.58" y1="141.5" x2="256.58" y2="143.3" stroke="#000" stroke-width="0.7"/>
<line x1="264.53" y1="141.5" x2="264.53" y2="143.3" stroke="#000" stroke-width="0.7"/>
<line x1="272.48" y1="141.5" x2="272.48" y2="143.3" stroke="#000" stroke-width="0.7"/>
<text x="0" y="0" font-size="5.5" text-anchor="end" font-weight="normal" fill="#000" transform="translate(222.8,147) rotate(-90)" class="b">0</text>
<text x="0" y="0" font-size="5.5" text-anchor="end" font-weight="normal" fill="#000" transform="translate(230.75,147) rotate(-90)" class="b">0.0032</text>
<text x="0" y="0" font-size="5.5" text-anchor="end" font-weight="normal" fill="#000" transform="translate(238.7,147) rotate(-90)" class="b">0.016</text>
<text x="0" y="0" font-size="5.5" text-anchor="end" font-weight="normal" fill="#000" transform="translate(246.65,147) rotate(-90)" class="b">0.08</text>
<text x="0" y="0" font-size="5.5" text-anchor="end" font-weight="normal" fill="#000" transform="translate(254.6,147) rotate(-90)" class="b">0.4</text>
<text x="0" y="0" font-size="5.5" text-anchor="end" font-weight="normal" fill="#000" transform="translate(262.55,147) rotate(-90)" class="b">2</text>
<text x="0" y="0" font-size="5.5" text-anchor="end" font-weight="normal" fill="#000" transform="translate(270.5,147) rotate(-90)" class="b">10</text>
<polyline points="220.8,95.8 228.75,104.4 236.7,116 244.65,128.8 252.6,134.9 260.55,138 268.5,138.7" fill="none" stroke="#9a9a9a" stroke-width="0.9" stroke-linejoin="round"/>
<polyline points="220.8,95.8 228.75,94.4 236.7,108.5 244.65,126.2 252.6,132.6 260.55,134.2 268.5,135.4" fill="none" stroke="#111" stroke-width="1.1" stroke-linejoin="round"/>
<circle cx="228.75" cy="104.4" r="1.6" fill="#b4b4b4" stroke="#7a7a7a" stroke-width="0.6"/>
<circle cx="236.7" cy="116" r="1.6" fill="#b4b4b4" stroke="#7a7a7a" stroke-width="0.6"/>
<circle cx="244.65" cy="128.8" r="1.6" fill="#b4b4b4" stroke="#7a7a7a" stroke-width="0.6"/>
<circle cx="252.6" cy="134.9" r="1.6" fill="#b4b4b4" stroke="#7a7a7a" stroke-width="0.6"/>
<circle cx="260.55" cy="138" r="1.6" fill="#b4b4b4" stroke="#7a7a7a" stroke-width="0.6"/>
<circle cx="268.5" cy="138.7" r="1.6" fill="#b4b4b4" stroke="#7a7a7a" stroke-width="0.6"/>
<rect x="227.15" y="92.8" width="3.2" height="3.2" fill="#111"/>
<rect x="235.1" y="106.9" width="3.2" height="3.2" fill="#111"/>
<rect x="243.05" y="124.6" width="3.2" height="3.2" fill="#111"/>
<rect x="251" y="131" width="3.2" height="3.2" fill="#111"/>
<rect x="258.95" y="132.6" width="3.2" height="3.2" fill="#111"/>
<rect x="266.9" y="133.8" width="3.2" height="3.2" fill="#111"/>
<rect x="219.2" y="94.2" width="3.2" height="3.2" fill="#d8d8d8" stroke="#999" stroke-width="0.6"/>
<text x="264.2" y="96.4" font-size="5.6" text-anchor="end" font-weight="normal" fill="#111">Tab</text>
<line x1="302.9" y1="86.7" x2="358.7" y2="86.7" stroke="#666" stroke-width="0.7"/>
<line x1="358.7" y1="86.7" x2="358.7" y2="141" stroke="#666" stroke-width="0.7"/>
<line x1="300.9" y1="86.7" x2="302.9" y2="86.7" stroke="#000" stroke-width="0.7"/>
<text x="300.5" y="88.7" font-size="5.5" text-anchor="end" font-weight="normal" fill="#000" class="b">1</text>
<line x1="301.8" y1="89.42" x2="302.9" y2="89.42" stroke="#333" stroke-width="0.5"/>
<line x1="301.8" y1="92.13" x2="302.9" y2="92.13" stroke="#333" stroke-width="0.5"/>
<line x1="301.8" y1="94.84" x2="302.9" y2="94.84" stroke="#333" stroke-width="0.5"/>
<line x1="300.9" y1="97.56" x2="302.9" y2="97.56" stroke="#000" stroke-width="0.7"/>
<text x="300.5" y="99.56" font-size="5.5" text-anchor="end" font-weight="normal" fill="#000" class="b">0.8</text>
<line x1="301.8" y1="100.28" x2="302.9" y2="100.28" stroke="#333" stroke-width="0.5"/>
<line x1="301.8" y1="102.99" x2="302.9" y2="102.99" stroke="#333" stroke-width="0.5"/>
<line x1="301.8" y1="105.7" x2="302.9" y2="105.7" stroke="#333" stroke-width="0.5"/>
<line x1="300.9" y1="108.42" x2="302.9" y2="108.42" stroke="#000" stroke-width="0.7"/>
<text x="300.5" y="110.42" font-size="5.5" text-anchor="end" font-weight="normal" fill="#000" class="b">0.6</text>
<line x1="301.8" y1="111.14" x2="302.9" y2="111.14" stroke="#333" stroke-width="0.5"/>
<line x1="301.8" y1="113.85" x2="302.9" y2="113.85" stroke="#333" stroke-width="0.5"/>
<line x1="301.8" y1="116.56" x2="302.9" y2="116.56" stroke="#333" stroke-width="0.5"/>
<line x1="300.9" y1="119.28" x2="302.9" y2="119.28" stroke="#000" stroke-width="0.7"/>
<text x="300.5" y="121.28" font-size="5.5" text-anchor="end" font-weight="normal" fill="#000" class="b">0.4</text>
<line x1="301.8" y1="122" x2="302.9" y2="122" stroke="#333" stroke-width="0.5"/>
<line x1="301.8" y1="124.71" x2="302.9" y2="124.71" stroke="#333" stroke-width="0.5"/>
<line x1="301.8" y1="127.42" x2="302.9" y2="127.42" stroke="#333" stroke-width="0.5"/>
<line x1="300.9" y1="130.14" x2="302.9" y2="130.14" stroke="#000" stroke-width="0.7"/>
<text x="300.5" y="132.14" font-size="5.5" text-anchor="end" font-weight="normal" fill="#000" class="b">0.2</text>
<line x1="301.8" y1="132.85" x2="302.9" y2="132.85" stroke="#333" stroke-width="0.5"/>
<line x1="301.8" y1="135.57" x2="302.9" y2="135.57" stroke="#333" stroke-width="0.5"/>
<line x1="301.8" y1="138.28" x2="302.9" y2="138.28" stroke="#333" stroke-width="0.5"/>
<line x1="300.9" y1="141" x2="302.9" y2="141" stroke="#000" stroke-width="0.7"/>
<text x="300.5" y="143" font-size="5.5" text-anchor="end" font-weight="normal" fill="#000" class="b">0</text>
<line x1="302.9" y1="86.7" x2="302.9" y2="142.5" stroke="#000" stroke-width="0.75"/>
<line x1="301.4" y1="141" x2="358.7" y2="141" stroke="#000" stroke-width="0.75"/>
<line x1="303.41" y1="141" x2="303.41" y2="142.8" stroke="#000" stroke-width="0.7"/>
<line x1="311.19" y1="141" x2="311.19" y2="142.8" stroke="#000" stroke-width="0.7"/>
<line x1="318.97" y1="141" x2="318.97" y2="142.8" stroke="#000" stroke-width="0.7"/>
<line x1="326.75" y1="141" x2="326.75" y2="142.8" stroke="#000" stroke-width="0.7"/>
<line x1="334.53" y1="141" x2="334.53" y2="142.8" stroke="#000" stroke-width="0.7"/>
<line x1="342.31" y1="141" x2="342.31" y2="142.8" stroke="#000" stroke-width="0.7"/>
<line x1="350.09" y1="141" x2="350.09" y2="142.8" stroke="#000" stroke-width="0.7"/>
<line x1="357.87" y1="141" x2="357.87" y2="142.8" stroke="#000" stroke-width="0.7"/>
<text x="0" y="0" font-size="5.5" text-anchor="end" font-weight="normal" fill="#000" transform="translate(309.3,146.5) rotate(-90)" class="b">0</text>
<text x="0" y="0" font-size="5.5" text-anchor="end" font-weight="normal" fill="#000" transform="translate(317.08,146.5) rotate(-90)" class="b">0.0032</text>
<text x="0" y="0" font-size="5.5" text-anchor="end" font-weight="normal" fill="#000" transform="translate(324.86,146.5) rotate(-90)" class="b">0.016</text>
<text x="0" y="0" font-size="5.5" text-anchor="end" font-weight="normal" fill="#000" transform="translate(332.64,146.5) rotate(-90)" class="b">0.08</text>
<text x="0" y="0" font-size="5.5" text-anchor="end" font-weight="normal" fill="#000" transform="translate(340.42,146.5) rotate(-90)" class="b">0.4</text>
<text x="0" y="0" font-size="5.5" text-anchor="end" font-weight="normal" fill="#000" transform="translate(348.2,146.5) rotate(-90)" class="b">2</text>
<text x="0" y="0" font-size="5.5" text-anchor="end" font-weight="normal" fill="#000" transform="translate(355.98,146.5) rotate(-90)" class="b">10</text>
<polyline points="307.3,86.7 315.08,102.7 322.86,115.6 330.64,120.8 338.42,123.8 346.2,126.2 353.98,129.6" fill="none" stroke="#9a9a9a" stroke-width="0.9" stroke-linejoin="round"/>
<polyline points="307.3,86.7 315.08,99.6 322.86,114.6 330.64,117.5 338.42,119.4 346.2,120.4 353.98,121.3" fill="none" stroke="#111" stroke-width="1.1" stroke-linejoin="round"/>
<circle cx="315.08" cy="102.7" r="1.6" fill="#b4b4b4" stroke="#7a7a7a" stroke-width="0.6"/>
<circle cx="322.86" cy="115.6" r="1.6" fill="#b4b4b4" stroke="#7a7a7a" stroke-width="0.6"/>
<circle cx="330.64" cy="120.8" r="1.6" fill="#b4b4b4" stroke="#7a7a7a" stroke-width="0.6"/>
<circle cx="338.42" cy="123.8" r="1.6" fill="#b4b4b4" stroke="#7a7a7a" stroke-width="0.6"/>
<circle cx="346.2" cy="126.2" r="1.6" fill="#b4b4b4" stroke="#7a7a7a" stroke-width="0.6"/>
<circle cx="353.98" cy="129.6" r="1.6" fill="#b4b4b4" stroke="#7a7a7a" stroke-width="0.6"/>
<rect x="313.48" y="98" width="3.2" height="3.2" fill="#111"/>
<rect x="321.26" y="113" width="3.2" height="3.2" fill="#111"/>
<rect x="329.04" y="115.9" width="3.2" height="3.2" fill="#111"/>
<rect x="336.82" y="117.8" width="3.2" height="3.2" fill="#111"/>
<rect x="344.6" y="118.8" width="3.2" height="3.2" fill="#111"/>
<rect x="352.38" y="119.7" width="3.2" height="3.2" fill="#111"/>
<rect x="305.7" y="85.1" width="3.2" height="3.2" fill="#d8d8d8" stroke="#999" stroke-width="0.6"/>
<text x="350.6" y="95.2" font-size="5.6" text-anchor="end" font-weight="normal" fill="#111">Daudi</text>
<line x1="217.9" y1="168.7" x2="272.7" y2="168.7" stroke="#666" stroke-width="0.7"/>
<line x1="272.7" y1="168.7" x2="272.7" y2="226.9" stroke="#666" stroke-width="0.7"/>
<line x1="215.9" y1="168.7" x2="217.9" y2="168.7" stroke="#000" stroke-width="0.7"/>
<text x="215.5" y="170.7" font-size="5.5" text-anchor="end" font-weight="normal" fill="#000" class="b">1</text>
<line x1="216.8" y1="171.61" x2="217.9" y2="171.61" stroke="#333" stroke-width="0.5"/>
<line x1="216.8" y1="174.52" x2="217.9" y2="174.52" stroke="#333" stroke-width="0.5"/>
<line x1="216.8" y1="177.43" x2="217.9" y2="177.43" stroke="#333" stroke-width="0.5"/>
<line x1="215.9" y1="180.34" x2="217.9" y2="180.34" stroke="#000" stroke-width="0.7"/>
<text x="215.5" y="182.34" font-size="5.5" text-anchor="end" font-weight="normal" fill="#000" class="b">0.8</text>
<line x1="216.8" y1="183.25" x2="217.9" y2="183.25" stroke="#333" stroke-width="0.5"/>
<line x1="216.8" y1="186.16" x2="217.9" y2="186.16" stroke="#333" stroke-width="0.5"/>
<line x1="216.8" y1="189.07" x2="217.9" y2="189.07" stroke="#333" stroke-width="0.5"/>
<line x1="215.9" y1="191.98" x2="217.9" y2="191.98" stroke="#000" stroke-width="0.7"/>
<text x="215.5" y="193.98" font-size="5.5" text-anchor="end" font-weight="normal" fill="#000" class="b">0.6</text>
<line x1="216.8" y1="194.89" x2="217.9" y2="194.89" stroke="#333" stroke-width="0.5"/>
<line x1="216.8" y1="197.8" x2="217.9" y2="197.8" stroke="#333" stroke-width="0.5"/>
<line x1="216.8" y1="200.71" x2="217.9" y2="200.71" stroke="#333" stroke-width="0.5"/>
<line x1="215.9" y1="203.62" x2="217.9" y2="203.62" stroke="#000" stroke-width="0.7"/>
<text x="215.5" y="205.62" font-size="5.5" text-anchor="end" font-weight="normal" fill="#000" class="b">0.4</text>
<line x1="216.8" y1="206.53" x2="217.9" y2="206.53" stroke="#333" stroke-width="0.5"/>
<line x1="216.8" y1="209.44" x2="217.9" y2="209.44" stroke="#333" stroke-width="0.5"/>
<line x1="216.8" y1="212.35" x2="217.9" y2="212.35" stroke="#333" stroke-width="0.5"/>
<line x1="215.9" y1="215.26" x2="217.9" y2="215.26" stroke="#000" stroke-width="0.7"/>
<text x="215.5" y="217.26" font-size="5.5" text-anchor="end" font-weight="normal" fill="#000" class="b">0.2</text>
<line x1="216.8" y1="218.17" x2="217.9" y2="218.17" stroke="#333" stroke-width="0.5"/>
<line x1="216.8" y1="221.08" x2="217.9" y2="221.08" stroke="#333" stroke-width="0.5"/>
<line x1="216.8" y1="223.99" x2="217.9" y2="223.99" stroke="#333" stroke-width="0.5"/>
<line x1="215.9" y1="226.9" x2="217.9" y2="226.9" stroke="#000" stroke-width="0.7"/>
<text x="215.5" y="228.9" font-size="5.5" text-anchor="end" font-weight="normal" fill="#000" class="b">0</text>
<line x1="217.9" y1="168.7" x2="217.9" y2="228.4" stroke="#000" stroke-width="0.75"/>
<line x1="216.4" y1="226.9" x2="272.7" y2="226.9" stroke="#000" stroke-width="0.75"/>
<line x1="217.8" y1="226.9" x2="217.8" y2="228.7" stroke="#000" stroke-width="0.7"/>
<line x1="225.6" y1="226.9" x2="225.6" y2="228.7" stroke="#000" stroke-width="0.7"/>
<line x1="233.4" y1="226.9" x2="233.4" y2="228.7" stroke="#000" stroke-width="0.7"/>
<line x1="241.2" y1="226.9" x2="241.2" y2="228.7" stroke="#000" stroke-width="0.7"/>
<line x1="249" y1="226.9" x2="249" y2="228.7" stroke="#000" stroke-width="0.7"/>
<line x1="256.8" y1="226.9" x2="256.8" y2="228.7" stroke="#000" stroke-width="0.7"/>
<line x1="264.6" y1="226.9" x2="264.6" y2="228.7" stroke="#000" stroke-width="0.7"/>
<line x1="272.4" y1="226.9" x2="272.4" y2="228.7" stroke="#000" stroke-width="0.7"/>
<text x="0" y="0" font-size="5.5" text-anchor="end" font-weight="normal" fill="#000" transform="translate(223.7,232.4) rotate(-90)" class="b">0</text>
<text x="0" y="0" font-size="5.5" text-anchor="end" font-weight="normal" fill="#000" transform="translate(231.5,232.4) rotate(-90)" class="b">0.0032</text>
<text x="0" y="0" font-size="5.5" text-anchor="end" font-weight="normal" fill="#000" transform="translate(239.3,232.4) rotate(-90)" class="b">0.016</text>
<text x="0" y="0" font-size="5.5" text-anchor="end" font-weight="normal" fill="#000" transform="translate(247.1,232.4) rotate(-90)" class="b">0.08</text>
<text x="0" y="0" font-size="5.5" text-anchor="end" font-weight="normal" fill="#000" transform="translate(254.9,232.4) rotate(-90)" class="b">0.4</text>
<text x="0" y="0" font-size="5.5" text-anchor="end" font-weight="normal" fill="#000" transform="translate(262.7,232.4) rotate(-90)" class="b">2</text>
<text x="0" y="0" font-size="5.5" text-anchor="end" font-weight="normal" fill="#000" transform="translate(270.5,232.4) rotate(-90)" class="b">10</text>
<polyline points="221.7,168.7 229.5,187.5 237.3,191.7 245.1,210.2 252.9,218.7 260.7,221.2 268.5,223.5" fill="none" stroke="#9a9a9a" stroke-width="0.9" stroke-linejoin="round"/>
<polyline points="221.7,168.7 229.5,176.7 237.3,186.3 245.1,192.7 252.9,208 260.7,213 268.5,214.8" fill="none" stroke="#111" stroke-width="1.1" stroke-linejoin="round"/>
<circle cx="229.5" cy="187.5" r="1.6" fill="#b4b4b4" stroke="#7a7a7a" stroke-width="0.6"/>
<circle cx="237.3" cy="191.7" r="1.6" fill="#b4b4b4" stroke="#7a7a7a" stroke-width="0.6"/>
<circle cx="245.1" cy="210.2" r="1.6" fill="#b4b4b4" stroke="#7a7a7a" stroke-width="0.6"/>
<circle cx="252.9" cy="218.7" r="1.6" fill="#b4b4b4" stroke="#7a7a7a" stroke-width="0.6"/>
<circle cx="260.7" cy="221.2" r="1.6" fill="#b4b4b4" stroke="#7a7a7a" stroke-width="0.6"/>
<circle cx="268.5" cy="223.5" r="1.6" fill="#b4b4b4" stroke="#7a7a7a" stroke-width="0.6"/>
<rect x="227.9" y="175.1" width="3.2" height="3.2" fill="#111"/>
<rect x="235.7" y="184.7" width="3.2" height="3.2" fill="#111"/>
<rect x="243.5" y="191.1" width="3.2" height="3.2" fill="#111"/>
<rect x="251.3" y="206.4" width="3.2" height="3.2" fill="#111"/>
<rect x="259.1" y="211.4" width="3.2" height="3.2" fill="#111"/>
<rect x="266.9" y="213.2" width="3.2" height="3.2" fill="#111"/>
<rect x="220.1" y="167.1" width="3.2" height="3.2" fill="#d8d8d8" stroke="#999" stroke-width="0.6"/>
<text x="270.1" y="178.3" font-size="5.6" text-anchor="end" font-weight="normal" fill="#111">NCEB-1</text>
<line x1="303" y1="169" x2="358.7" y2="169" stroke="#666" stroke-width="0.7"/>
<line x1="358.7" y1="169" x2="358.7" y2="224" stroke="#666" stroke-width="0.7"/>
<line x1="301" y1="169" x2="303" y2="169" stroke="#000" stroke-width="0.7"/>
<text x="300.6" y="171" font-size="5.5" text-anchor="end" font-weight="normal" fill="#000" class="b">1</text>
<line x1="301.9" y1="171.75" x2="303" y2="171.75" stroke="#333" stroke-width="0.5"/>
<line x1="301.9" y1="174.5" x2="303" y2="174.5" stroke="#333" stroke-width="0.5"/>
<line x1="301.9" y1="177.25" x2="303" y2="177.25" stroke="#333" stroke-width="0.5"/>
<line x1="301" y1="180" x2="303" y2="180" stroke="#000" stroke-width="0.7"/>
<text x="300.6" y="182" font-size="5.5" text-anchor="end" font-weight="normal" fill="#000" class="b">0.8</text>
<line x1="301.9" y1="182.75" x2="303" y2="182.75" stroke="#333" stroke-width="0.5"/>
<line x1="301.9" y1="185.5" x2="303" y2="185.5" stroke="#333" stroke-width="0.5"/>
<line x1="301.9" y1="188.25" x2="303" y2="188.25" stroke="#333" stroke-width="0.5"/>
<line x1="301" y1="191" x2="303" y2="191" stroke="#000" stroke-width="0.7"/>
<text x="300.6" y="193" font-size="5.5" text-anchor="end" font-weight="normal" fill="#000" class="b">0.6</text>
<line x1="301.9" y1="193.75" x2="303" y2="193.75" stroke="#333" stroke-width="0.5"/>
<line x1="301.9" y1="196.5" x2="303" y2="196.5" stroke="#333" stroke-width="0.5"/>
<line x1="301.9" y1="199.25" x2="303" y2="199.25" stroke="#333" stroke-width="0.5"/>
<line x1="301" y1="202" x2="303" y2="202" stroke="#000" stroke-width="0.7"/>
<text x="300.6" y="204" font-size="5.5" text-anchor="end" font-weight="normal" fill="#000" class="b">0.4</text>
<line x1="301.9" y1="204.75" x2="303" y2="204.75" stroke="#333" stroke-width="0.5"/>
<line x1="301.9" y1="207.5" x2="303" y2="207.5" stroke="#333" stroke-width="0.5"/>
<line x1="301.9" y1="210.25" x2="303" y2="210.25" stroke="#333" stroke-width="0.5"/>
<line x1="301" y1="213" x2="303" y2="213" stroke="#000" stroke-width="0.7"/>
<text x="300.6" y="215" font-size="5.5" text-anchor="end" font-weight="normal" fill="#000" class="b">0.2</text>
<line x1="301.9" y1="215.75" x2="303" y2="215.75" stroke="#333" stroke-width="0.5"/>
<line x1="301.9" y1="218.5" x2="303" y2="218.5" stroke="#333" stroke-width="0.5"/>
<line x1="301.9" y1="221.25" x2="303" y2="221.25" stroke="#333" stroke-width="0.5"/>
<line x1="301" y1="224" x2="303" y2="224" stroke="#000" stroke-width="0.7"/>
<text x="300.6" y="226" font-size="5.5" text-anchor="end" font-weight="normal" fill="#000" class="b">0</text>
<line x1="303" y1="169" x2="303" y2="225.5" stroke="#000" stroke-width="0.75"/>
<line x1="301.5" y1="224" x2="358.7" y2="224" stroke="#000" stroke-width="0.75"/>
<line x1="303.77" y1="224" x2="303.77" y2="225.8" stroke="#000" stroke-width="0.7"/>
<line x1="311.62" y1="224" x2="311.62" y2="225.8" stroke="#000" stroke-width="0.7"/>
<line x1="319.47" y1="224" x2="319.47" y2="225.8" stroke="#000" stroke-width="0.7"/>
<line x1="327.32" y1="224" x2="327.32" y2="225.8" stroke="#000" stroke-width="0.7"/>
<line x1="335.17" y1="224" x2="335.17" y2="225.8" stroke="#000" stroke-width="0.7"/>
<line x1="343.02" y1="224" x2="343.02" y2="225.8" stroke="#000" stroke-width="0.7"/>
<line x1="350.88" y1="224" x2="350.88" y2="225.8" stroke="#000" stroke-width="0.7"/>
<line x1="358.72" y1="224" x2="358.72" y2="225.8" stroke="#000" stroke-width="0.7"/>
<text x="0" y="0" font-size="5.5" text-anchor="end" font-weight="normal" fill="#000" transform="translate(309.7,229.5) rotate(-90)" class="b">0</text>
<text x="0" y="0" font-size="5.5" text-anchor="end" font-weight="normal" fill="#000" transform="translate(317.55,229.5) rotate(-90)" class="b">0.0032</text>
<text x="0" y="0" font-size="5.5" text-anchor="end" font-weight="normal" fill="#000" transform="translate(325.4,229.5) rotate(-90)" class="b">0.016</text>
<text x="0" y="0" font-size="5.5" text-anchor="end" font-weight="normal" fill="#000" transform="translate(333.25,229.5) rotate(-90)" class="b">0.08</text>
<text x="0" y="0" font-size="5.5" text-anchor="end" font-weight="normal" fill="#000" transform="translate(341.1,229.5) rotate(-90)" class="b">0.4</text>
<text x="0" y="0" font-size="5.5" text-anchor="end" font-weight="normal" fill="#000" transform="translate(348.95,229.5) rotate(-90)" class="b">2</text>
<text x="0" y="0" font-size="5.5" text-anchor="end" font-weight="normal" fill="#000" transform="translate(356.8,229.5) rotate(-90)" class="b">10</text>
<polyline points="307.7,169 315.55,177 323.4,184.6 331.25,186.5 339.1,192.3 346.95,194.2 354.8,203.8" fill="none" stroke="#9a9a9a" stroke-width="0.9" stroke-linejoin="round"/>
<polyline points="307.7,169 315.55,177 323.4,179.8 331.25,180.8 339.1,182.1 346.95,185 354.8,190.8" fill="none" stroke="#111" stroke-width="1.1" stroke-linejoin="round"/>
<circle cx="315.55" cy="177" r="1.6" fill="#b4b4b4" stroke="#7a7a7a" stroke-width="0.6"/>
<circle cx="323.4" cy="184.6" r="1.6" fill="#b4b4b4" stroke="#7a7a7a" stroke-width="0.6"/>
<circle cx="331.25" cy="186.5" r="1.6" fill="#b4b4b4" stroke="#7a7a7a" stroke-width="0.6"/>
<circle cx="339.1" cy="192.3" r="1.6" fill="#b4b4b4" stroke="#7a7a7a" stroke-width="0.6"/>
<circle cx="346.95" cy="194.2" r="1.6" fill="#b4b4b4" stroke="#7a7a7a" stroke-width="0.6"/>
<circle cx="354.8" cy="203.8" r="1.6" fill="#b4b4b4" stroke="#7a7a7a" stroke-width="0.6"/>
<rect x="313.95" y="175.4" width="3.2" height="3.2" fill="#111"/>
<rect x="321.8" y="178.2" width="3.2" height="3.2" fill="#111"/>
<rect x="329.65" y="179.2" width="3.2" height="3.2" fill="#111"/>
<rect x="337.5" y="180.5" width="3.2" height="3.2" fill="#111"/>
<rect x="345.35" y="183.4" width="3.2" height="3.2" fill="#111"/>
<rect x="353.2" y="189.2" width="3.2" height="3.2" fill="#111"/>
<circle cx="315.55" cy="177" r="1.6" fill="#b4b4b4" stroke="#7a7a7a" stroke-width="0.6"/>
<rect x="306.1" y="167.4" width="3.2" height="3.2" fill="#d8d8d8" stroke="#999" stroke-width="0.6"/>
<text x="354.6" y="178.4" font-size="5.6" text-anchor="end" font-weight="normal" fill="#111">Raji</text>
<text x="0" y="0" font-size="12.7" text-anchor="middle" font-weight="normal" fill="#000" transform="translate(200.5,115.1) rotate(-90)" word-spacing="0.9">Counts per minute/control</text>
<text x="296.4" y="289.9" font-size="11.9" text-anchor="middle" font-weight="normal" fill="#000">Dexamethasone (µM)</text>
<rect x="260.8" y="249.6" width="65.4" height="20.6" fill="none" stroke="#444" stroke-width="0.7"/>
<line x1="264.8" y1="254.8" x2="275" y2="254.8" stroke="#222" stroke-width="0.8"/>
<rect x="268.6" y="253.3" width="3" height="3" fill="#111"/>
<text x="279.6" y="256.6" font-size="5.15" text-anchor="start" font-weight="normal" fill="#222">Rituximab &#160;0 µg/mL</text>
<line x1="264.8" y1="264.3" x2="275" y2="264.3" stroke="#aaa" stroke-width="0.8"/>
<circle cx="270.1" cy="264.3" r="1.5" fill="#999"/>
<text x="279.6" y="266.1" font-size="5.15" text-anchor="start" font-weight="normal" fill="#222">Rituximab 10 µg/mL</text>
<line x1="393" y1="12" x2="518.5" y2="12" stroke="#777" stroke-width="0.9"/>
<line x1="518.5" y1="12" x2="518.5" y2="98.7" stroke="#777" stroke-width="0.9"/>
<line x1="390.8" y1="12" x2="393" y2="12" stroke="#000" stroke-width="0.7"/>
<text x="390.2" y="14.1" font-size="5.9" text-anchor="end" font-weight="normal" fill="#000" class="b">1</text>
<line x1="390.8" y1="20.67" x2="393" y2="20.67" stroke="#000" stroke-width="0.7"/>
<text x="390.2" y="22.77" font-size="5.9" text-anchor="end" font-weight="normal" fill="#000" class="b">0.9</text>
<line x1="390.8" y1="29.34" x2="393" y2="29.34" stroke="#000" stroke-width="0.7"/>
<text x="390.2" y="31.44" font-size="5.9" text-anchor="end" font-weight="normal" fill="#000" class="b">0.8</text>
<line x1="390.8" y1="38.01" x2="393" y2="38.01" stroke="#000" stroke-width="0.7"/>
<text x="390.2" y="40.11" font-size="5.9" text-anchor="end" font-weight="normal" fill="#000" class="b">0.7</text>
<line x1="390.8" y1="46.68" x2="393" y2="46.68" stroke="#000" stroke-width="0.7"/>
<text x="390.2" y="48.78" font-size="5.9" text-anchor="end" font-weight="normal" fill="#000" class="b">0.6</text>
<line x1="390.8" y1="55.35" x2="393" y2="55.35" stroke="#000" stroke-width="0.7"/>
<text x="390.2" y="57.45" font-size="5.9" text-anchor="end" font-weight="normal" fill="#000" class="b">0.5</text>
<line x1="390.8" y1="64.02" x2="393" y2="64.02" stroke="#000" stroke-width="0.7"/>
<text x="390.2" y="66.12" font-size="5.9" text-anchor="end" font-weight="normal" fill="#000" class="b">0.4</text>
<line x1="390.8" y1="72.69" x2="393" y2="72.69" stroke="#000" stroke-width="0.7"/>
<text x="390.2" y="74.79" font-size="5.9" text-anchor="end" font-weight="normal" fill="#000" class="b">0.3</text>
<line x1="390.8" y1="81.36" x2="393" y2="81.36" stroke="#000" stroke-width="0.7"/>
<text x="390.2" y="83.46" font-size="5.9" text-anchor="end" font-weight="normal" fill="#000" class="b">0.2</text>
<line x1="390.8" y1="90.03" x2="393" y2="90.03" stroke="#000" stroke-width="0.7"/>
<text x="390.2" y="92.13" font-size="5.9" text-anchor="end" font-weight="normal" fill="#000" class="b">0.1</text>
<line x1="390.8" y1="98.7" x2="393" y2="98.7" stroke="#000" stroke-width="0.7"/>
<text x="390.2" y="100.8" font-size="5.9" text-anchor="end" font-weight="normal" fill="#000" class="b">0</text>
<line x1="392.1" y1="12" x2="392.1" y2="98.7" stroke="#333" stroke-width="1.3" stroke-dasharray="0.6 0.5"/>
<line x1="393" y1="12" x2="393" y2="100.2" stroke="#000" stroke-width="1"/>
<line x1="391.5" y1="98.7" x2="518.5" y2="98.7" stroke="#000" stroke-width="1"/>
<line x1="393" y1="98.7" x2="393" y2="100.5" stroke="#000" stroke-width="0.7"/>
<line x1="413.92" y1="98.7" x2="413.92" y2="100.5" stroke="#000" stroke-width="0.7"/>
<line x1="434.83" y1="98.7" x2="434.83" y2="100.5" stroke="#000" stroke-width="0.7"/>
<line x1="455.75" y1="98.7" x2="455.75" y2="100.5" stroke="#000" stroke-width="0.7"/>
<line x1="476.67" y1="98.7" x2="476.67" y2="100.5" stroke="#000" stroke-width="0.7"/>
<line x1="497.58" y1="98.7" x2="497.58" y2="100.5" stroke="#000" stroke-width="0.7"/>
<line x1="518.5" y1="98.7" x2="518.5" y2="100.5" stroke="#000" stroke-width="0.7"/>
<text x="0" y="0" font-size="5.9" text-anchor="start" font-weight="normal" fill="#000" transform="translate(399.36,102.1) rotate(90)" class="b">0</text>
<text x="0" y="0" font-size="5.9" text-anchor="start" font-weight="normal" fill="#000" transform="translate(420.27,102.1) rotate(90)" class="b">3.2</text>
<text x="0" y="0" font-size="5.9" text-anchor="start" font-weight="normal" fill="#000" transform="translate(441.19,102.1) rotate(90)" class="b">16</text>
<text x="0" y="0" font-size="5.9" text-anchor="start" font-weight="normal" fill="#000" transform="translate(462.11,102.1) rotate(90)" class="b">80</text>
<text x="0" y="0" font-size="5.9" text-anchor="start" font-weight="normal" fill="#000" transform="translate(483.02,102.1) rotate(90)" class="b">400</text>
<text x="0" y="0" font-size="5.9" text-anchor="start" font-weight="normal" fill="#000" transform="translate(503.94,102.1) rotate(90)" class="b">2000</text>
<polyline points="403.46,12.9 424.38,13 445.29,13.3 466.21,13.8 487.12,15.2 508.04,21.6" fill="none" stroke="#000" stroke-width="1.05" stroke-linejoin="round"/>
<polyline points="403.46,12.9 424.38,13.1 445.29,13.8 466.21,14.5 487.12,15.8 508.04,28.3" fill="none" stroke="#000" stroke-width="1.05" stroke-linejoin="round"/>
<polyline points="403.46,13.2 424.38,44.3 445.29,53.7 466.21,66.4 487.12,68.4 508.04,68.1" fill="none" stroke="#000" stroke-width="1.05" stroke-linejoin="round"/>
<polyline points="403.46,13.2 424.38,59.7 445.29,76.5 466.21,85 487.12,87.1 508.04,86.4" fill="none" stroke="#000" stroke-width="1.05" stroke-linejoin="round"/>
<rect x="401.66" y="11.4" width="3.6" height="3.6" fill="#000"/>
<rect x="422.57" y="42.5" width="3.6" height="3.6" fill="#000"/>
<rect x="443.49" y="51.9" width="3.6" height="3.6" fill="#000"/>
<rect x="464.41" y="64.6" width="3.6" height="3.6" fill="#000"/>
<rect x="485.32" y="66.6" width="3.6" height="3.6" fill="#000"/>
<rect x="506.24" y="66.3" width="3.6" height="3.6" fill="#000"/>
<circle cx="424.38" cy="59.7" r="1.9"/>
<circle cx="445.29" cy="76.5" r="1.9"/>
<circle cx="466.21" cy="85" r="1.9"/>
<circle cx="487.12" cy="87.1" r="1.9"/>
<circle cx="508.04" cy="86.4" r="1.9"/>
<path d="M424.38 12.9L425.98 15.6L422.77 15.6Z"/>
<path d="M445.29 13.2L446.89 15.9L443.69 15.9Z"/>
<path d="M466.21 13.7L467.81 16.4L464.61 16.4Z"/>
<path d="M487.12 15.1L488.73 17.8L485.52 17.8Z"/>
<path d="M508.04 21.5L509.64 24.2L506.44 24.2Z"/>
<path d="M424.38 12.7L425.98 14.5L424.38 16.3L422.77 14.5Z"/>
<path d="M445.29 13.4L446.89 15.2L445.29 17L443.69 15.2Z"/>
<path d="M466.21 14.1L467.81 15.9L466.21 17.7L464.61 15.9Z"/>
<path d="M487.12 15.4L488.73 17.2L487.12 19L485.52 17.2Z"/>
<path d="M508.04 27.9L509.64 29.7L508.04 31.5L506.44 29.7Z"/>
<text x="0" y="0" font-size="6.75" text-anchor="middle" font-weight="normal" fill="#000" transform="translate(378.2,53.1) rotate(-90)">Counts per minute/control</text>
<text x="455.8" y="120.1" font-size="8" text-anchor="middle" font-weight="normal" fill="#000">Dexamethasone (µM)</text>
<rect x="399.2" y="126.9" width="110.2" height="35.2" fill="none" stroke="#333" stroke-width="0.8"/>
<line x1="403.2" y1="131.3" x2="413.4" y2="131.3" stroke="#000" stroke-width="0.9"/>
<rect x="406.8" y="131.1" width="2.8" height="2.8" fill="#000"/>
<text x="418.4" y="135" font-size="5.9" text-anchor="start" font-weight="normal" fill="#111">Rituximab 0 µg/mL</text>
<line x1="403.2" y1="140" x2="413.4" y2="140" stroke="#000" stroke-width="0.9"/>
<circle cx="408.2" cy="141.2" r="1.5"/>
<text x="418.4" y="143.7" font-size="5.9" text-anchor="start" font-weight="normal" fill="#111">Rituximab 10 µg/ mL</text>
<line x1="403.2" y1="148.6" x2="413.4" y2="148.6" stroke="#000" stroke-width="0.9"/>
<path d="M408.2 148.3L409.8 151.2L406.6 151.2Z"/>
<text x="418.4" y="152.3" font-size="5.9" text-anchor="start" font-weight="normal" fill="#111">Rituximab 0 +RU 486</text>
<line x1="403.2" y1="156.7" x2="413.4" y2="156.7" stroke="#000" stroke-width="0.9"/>
<path d="M408.2 156.5L409.7 158L408.2 159.5L406.7 158Z"/>
<text x="418.4" y="160.4" font-size="5.9" text-anchor="start" font-weight="normal" fill="#111">Rituximab 10 µg/ mL + RU 486</text></svg></body></html>
